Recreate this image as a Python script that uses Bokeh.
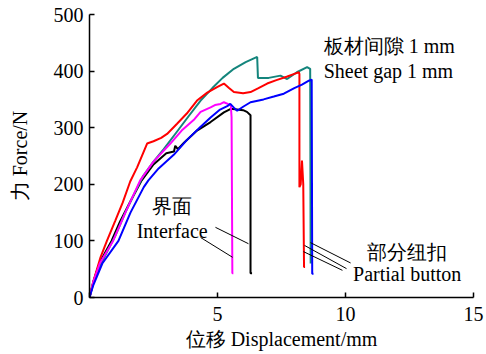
from bokeh.plotting import figure
from bokeh.models import Range1d, Label, FixedTicker
from bokeh.embed import file_html
from bokeh.resources import INLINE

# ---- data ----
teal_x = [0, 0.15, 0.4, 0.7, 1.0, 1.4, 1.8, 2.1, 2.5, 2.9, 3.4, 3.9, 4.34, 4.8, 5.2, 5.64, 6.1, 6.55,
          6.58, 7.0, 7.46, 7.72, 8.1, 8.5, 8.62, 8.64]
teal_y = [0, 25, 55, 82, 108, 150, 188, 215, 240, 262, 292, 322, 348, 370, 388, 404, 416, 425,
          388, 388, 392, 386, 398, 407, 404, 60]

red_x = [0, 0.15, 0.43, 0.68, 1.0, 1.3, 1.59, 1.86, 2.0, 2.25, 2.5, 2.8, 3.03, 3.42, 3.8, 4.2, 4.6,
         5.0, 5.25, 5.45, 5.64, 6.0, 6.29, 6.6, 6.94, 7.3, 7.7, 8.0, 8.18, 8.2, 8.2, 8.25, 8.3, 8.35,
         8.38, 8.42]
red_y = [0, 28, 71, 100, 135, 168, 205, 230, 245, 272, 276, 282, 289, 307, 325, 348, 362,
         372, 378, 370, 363, 361, 363, 370, 378, 384, 390, 395, 398, 395, 195, 200, 242, 200,
         54, 54]

black_x = [0, 0.15, 0.4, 0.86, 1.2, 1.6, 2.04, 2.5, 3.0, 3.3, 3.35, 3.45, 3.7, 4.2, 4.73, 5.25, 5.5,
           5.6, 6.0, 6.15, 6.29, 6.29, 6.35]
black_y = [0, 28, 62, 100, 135, 170, 207, 235, 255, 258, 268, 262, 274, 295, 310, 327, 333,
           333, 331, 328, 322, 43, 43]

magenta_x = [0, 0.15, 0.4, 0.92, 1.4, 1.98, 2.5, 3.16, 3.6, 4.1, 4.34, 4.73, 4.9, 5.12, 5.25, 5.4,
             5.52, 5.55, 5.58, 5.62]
magenta_y = [0, 28, 60, 100, 150, 207, 240, 272, 295, 315, 328, 336, 340, 342, 345, 342,
             340, 318, 43, 43]

blue_x = [0, 0.15, 0.5, 1.13, 1.6, 2.12, 2.3, 2.7, 3.29, 3.8, 4.3, 4.73, 5.1, 5.38, 5.5, 5.65, 5.77,
          6.0, 6.29, 6.8, 7.2, 7.59, 8.0, 8.3, 8.57, 8.68, 8.7, 8.75]
blue_y = [0, 22, 60, 100, 150, 195, 207, 228, 252, 278, 300, 318, 332, 338, 342, 335, 330,
          337, 345, 350, 355, 360, 370, 376, 383, 385, 42, 42]

# leader lines (data coords)
lead_x0 = [4.34, 4.92, 8.63, 8.40, 8.36]
lead_y0 = [106, 124, 97, 92, 81]
lead_x1 = [5.59, 6.21, 10.2, 10.04, 9.88]
lead_y1 = [71, 95, 61, 51, 48]

x_ticks = [0, 5, 10, 15]
y_ticks = [0, 100, 200, 300, 400, 500]

SERIF = "Liberation Serif"
FS = "20px"

p = figure(width=486, height=354, output_backend="svg", toolbar_location=None,
           x_range=Range1d(0, 15), y_range=Range1d(0, 500),
           min_border_left=89, min_border_right=13, min_border_top=14, min_border_bottom=57)
p.outline_line_color = None
p.grid.visible = False
p.background_fill_color = "white"
p.border_fill_color = "white"

for ax in (p.xaxis[0], p.yaxis[0]):
    ax.axis_line_color = "black"
    ax.axis_line_width = 1.5
    ax.major_tick_line_color = "black"
    ax.major_tick_line_width = 1.5
    ax.major_tick_in = 5
    ax.major_tick_out = 0
    ax.minor_tick_line_color = None
    ax.major_label_text_font = SERIF
    ax.major_label_text_font_size = FS
    ax.major_label_text_color = "black"
    ax.axis_label_text_font = SERIF
    ax.axis_label_text_font_size = FS
    ax.axis_label_text_font_style = "normal"
    ax.axis_label_text_color = "black"

p.xaxis.ticker = FixedTicker(ticks=x_ticks)
p.yaxis.ticker = FixedTicker(ticks=y_ticks)
p.xaxis.major_label_overrides = {0: ""}
p.xaxis.axis_label = "位移 Displacement/mm"
p.yaxis.axis_label = "力 Force/N"
p.xaxis.major_label_standoff = 9
p.yaxis.major_label_standoff = 6
p.xaxis.axis_label_standoff = 4
p.yaxis.axis_label_standoff = 20

lw = 2
p.line(black_x, black_y, line_color="black", line_width=lw)
p.line(teal_x, teal_y, line_color="#14857C", line_width=lw)
p.line(red_x, red_y, line_color="#FF0000", line_width=lw)
p.line(magenta_x, magenta_y, line_color="#FF00FF", line_width=lw)
p.line(blue_x, blue_y, line_color="#0000FF", line_width=lw)

p.segment(lead_x0, lead_y0, lead_x1, lead_y1, line_color="black", line_width=1)

def lab(x, y, t, align="center"):
    p.add_layout(Label(x=x, y=y, text=t, text_font=SERIF, text_font_size=FS,
                       text_align=align, text_baseline="middle", text_color="black"))

lab(3.23, 162, "界面")
lab(3.23, 118, "Interface")
lab(12.41, 80, "部分纽扣")
lab(12.41, 41, "Partial button")
lab(9.15, 445, "板材间隙 1 mm", "left")
lab(9.15, 401, "Sheet gap 1 mm", "left")

open("out.html", "w").write(file_html(p, INLINE))
